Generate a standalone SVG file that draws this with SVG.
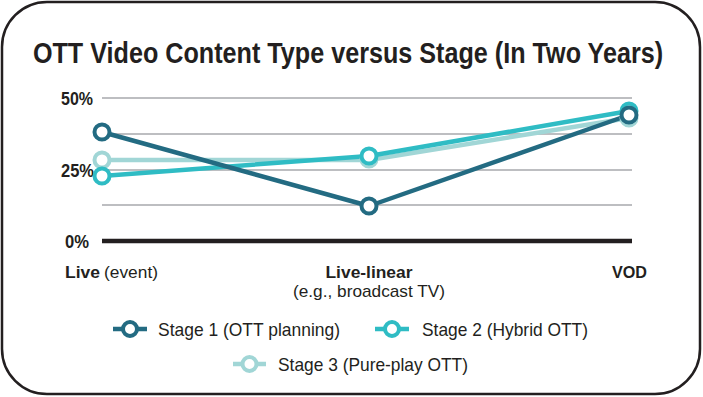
<svg xmlns="http://www.w3.org/2000/svg" width="703" height="397" viewBox="0 0 703 397">
<style>
.frame{fill:#fff;stroke:#231f20;stroke-width:2.5}
.grid{stroke:#a7a9ac;stroke-width:1.5}
.axis{stroke:#231f20;stroke-width:4.5}
.t{font-family:"Liberation Sans Narrow","Liberation Sans",Arial,sans-serif;fill:#231f20}
.b{font-weight:bold}
.ln{fill:none;stroke-width:4.5;stroke-linejoin:round}
.mk{fill:#fff;stroke-width:4}
.s1{stroke:#236b82}.s2{stroke:#2fbcc4}.s3{stroke:#a1d6d6}
</style>
<rect class="frame" x="2" y="2" width="698" height="392" rx="45" ry="45"/>
<text class="t b" transform="translate(348,63) scale(0.78,1)" x="0" y="0" font-size="30" text-anchor="middle" textLength="808" lengthAdjust="spacingAndGlyphs">OTT Video Content Type versus Stage (In Two Years)</text>
<g id="axes">
<line class="grid" x1="102" y1="98" x2="632" y2="98"/>
<line class="grid" x1="102" y1="134" x2="632" y2="134"/>
<line class="grid" x1="102" y1="170" x2="632" y2="170"/>
<line class="grid" x1="102" y1="205" x2="632" y2="205"/>
<line class="axis" x1="102" y1="241" x2="632" y2="241"/>
<text class="t b" x="61" y="105" font-size="18" textLength="32" lengthAdjust="spacingAndGlyphs">50%</text>
<text class="t b" x="61" y="177" font-size="18" textLength="33" lengthAdjust="spacingAndGlyphs">25%</text>
<text class="t b" x="65" y="248" font-size="18" textLength="24" lengthAdjust="spacingAndGlyphs">0%</text>
<text class="t" x="65" y="278" font-size="17"><tspan class="b" textLength="35" lengthAdjust="spacingAndGlyphs">Live</tspan><tspan x="104" textLength="54" lengthAdjust="spacingAndGlyphs">(event)</tspan></text>
<text class="t b" x="369" y="278" font-size="17" text-anchor="middle" textLength="87" lengthAdjust="spacingAndGlyphs">Live-linear</text>
<text class="t" x="369" y="297" font-size="17" text-anchor="middle" textLength="152" lengthAdjust="spacingAndGlyphs">(e.g., broadcast TV)</text>
<text class="t b" x="629.5" y="278" font-size="17" text-anchor="middle" textLength="35" lengthAdjust="spacingAndGlyphs">VOD</text>
</g>
<g id="connectors">
<polyline class="ln s3" points="102,160 369,160 629,118"/>
<polyline class="ln s2" points="102,176 369,156 629,111"/>
<polyline class="ln s1" points="102,132 369,206 629,115"/>
</g>
<g id="stage3">
<circle class="mk s3" cx="102" cy="160" r="7.5"/>
<circle class="mk s3" cx="369" cy="159" r="7.5"/>
<circle class="mk s3" cx="629" cy="118" r="7.5"/>
</g>
<g id="stage2">
<circle class="mk s2" cx="102" cy="176" r="7.5"/>
<circle class="mk s2" cx="369" cy="156" r="7.5"/>
<circle class="mk s2" cx="629" cy="111" r="7.5"/>
</g>
<g id="stage1">
<circle class="mk s1" cx="102" cy="132" r="7.5"/>
<circle class="mk s1" cx="369" cy="206" r="7.5"/>
<circle class="mk s1" cx="629" cy="115" r="7.5"/>
</g>
<g id="legend">
<line class="ln s1" x1="113" y1="329" x2="147" y2="329"/>
<circle class="mk s1" cx="130" cy="329" r="7"/>
<text class="t" x="158" y="336" font-size="19" textLength="182" lengthAdjust="spacingAndGlyphs">Stage 1 (OTT planning)</text>
<line class="ln s2" x1="375" y1="329" x2="409" y2="329"/>
<circle class="mk s2" cx="392" cy="329" r="7"/>
<text class="t" x="422" y="336" font-size="19" textLength="166" lengthAdjust="spacingAndGlyphs">Stage 2 (Hybrid OTT)</text>
<line class="ln s3" x1="233" y1="364" x2="266" y2="364"/>
<circle class="mk s3" cx="249.5" cy="364" r="7"/>
<text class="t" x="278" y="371" font-size="19" textLength="190" lengthAdjust="spacingAndGlyphs">Stage 3 (Pure-play OTT)</text>
</g>
</svg>
